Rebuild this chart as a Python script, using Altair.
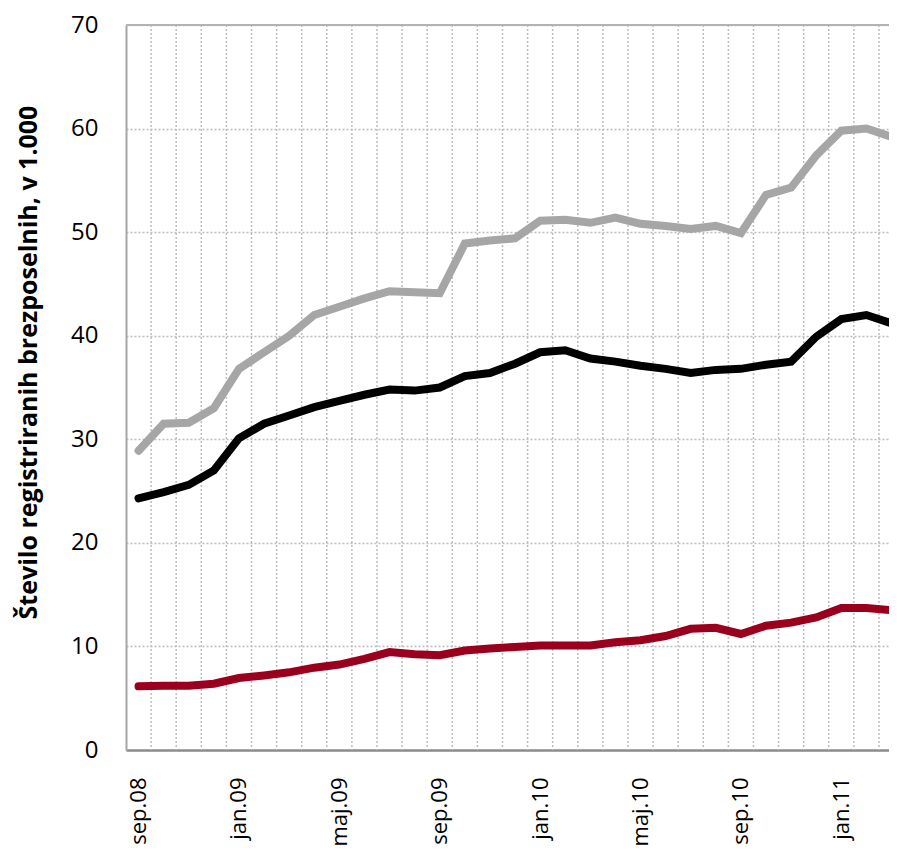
import altair as alt
import pandas as pd

months = ["sep.08","okt.08","nov.08","dec.08","jan.09","feb.09","mar.09","apr.09","maj.09","jun.09",
          "jul.09","avg.09","sep.09","okt.09","nov.09","dec.09","jan.10","feb.10","mar.10","apr.10",
          "maj.10","jun.10","jul.10","avg.10","sep.10","okt.10","nov.10","dec.10","jan.11","feb.11","mar.11"]

serija_siva = [28.9, 31.5, 31.6, 33.0, 36.8, 38.4, 40.0, 42.0, 42.8, 43.6,
               44.3, 44.2, 44.1, 48.9, 49.2, 49.4, 51.1, 51.2, 50.9, 51.4,
               50.8, 50.6, 50.3, 50.6, 49.9, 53.6, 54.3, 57.4, 59.8, 60.0, 59.2]
serija_crna = [24.3, 24.9, 25.6, 27.0, 30.1, 31.5, 32.3, 33.1, 33.7, 34.3,
               34.8, 34.7, 35.0, 36.1, 36.4, 37.3, 38.4, 38.6, 37.8, 37.5,
               37.1, 36.8, 36.4, 36.7, 36.8, 37.2, 37.5, 39.9, 41.6, 42.0, 41.2]
serija_rdeca = [6.15, 6.2, 6.2, 6.4, 6.95, 7.2, 7.5, 7.95, 8.25, 8.8,
                9.45, 9.25, 9.15, 9.6, 9.8, 9.95, 10.1, 10.1, 10.1, 10.4,
                10.6, 11.0, 11.7, 11.8, 11.2, 12.0, 12.3, 12.8, 13.7, 13.7, 13.5]

series_names = ["A", "B", "C"]
series_colors = ["#a6a6a6", "#000000", "#9a001e"]

rows = []
for name, vals in zip(series_names, [serija_siva, serija_crna, serija_rdeca]):
    for i, v in enumerate(vals):
        rows.append({"idx": i, "mesec": months[i], "vrednost": v, "serija": name})
df = pd.DataFrame(rows)

n = len(months)
label_idx = list(range(0, n, 4))
grid_df = pd.DataFrame({"idx": [i + 0.5 for i in range(n - 1)]})
top_df = pd.DataFrame({"vrednost": [70]})

label_js = "[" + ",".join("'%s'" % m for m in months) + "]"

FONT = "Open Sans"

xscale = alt.Scale(domain=[-0.5, 29.9], zero=False, nice=False)
yscale = alt.Scale(domain=[0, 70], zero=True, nice=False)

x_axis = alt.Axis(values=label_idx, labelExpr=label_js + "[datum.value]",
                  labelAngle=270, labelAlign="right", labelBaseline="middle",
                  labelPadding=27, ticks=False, grid=False, labelFlush=False,
                  labelOverlap=False, title=None, labelFont=FONT, labelFontSize=22,
                  labelColor="#000000", domainColor="#8c8c8c", domainWidth=2.5)
y_axis = alt.Axis(values=[0, 10, 20, 30, 40, 50, 60, 70], ticks=False, labelPadding=28,
                  labelFlush=False, labelFont=FONT, labelFontSize=24, labelColor="#000000",
                  grid=True, gridDash=[2, 2], gridColor="#bdbdbd", gridWidth=1.5,
                  domainColor="#a6a6a6", domainWidth=2,
                  title="Število registriranih brezposelnih, v 1.000",
                  titleFont=FONT, titleFontSize=25, titleFontWeight="bold",
                  titleColor="#000000", titleX=-98, titleY=337,
                  titleBaseline="middle", titleAngle=270)

vgrid = alt.Chart(grid_df).mark_rule(color="#bdbdbd", strokeWidth=1.5, strokeDash=[2, 2]).encode(
    x=alt.X("idx:Q", scale=xscale, axis=x_axis)
)

top_line = alt.Chart(top_df).mark_rule(color="#b3b3b3", strokeWidth=2).encode(
    y=alt.Y("vrednost:Q", scale=yscale, axis=y_axis)
)

lines = alt.Chart(df).mark_line(strokeWidth=8, strokeJoin="miter", strokeCap="round").encode(
    x=alt.X("idx:Q", scale=xscale, axis=x_axis),
    y=alt.Y("vrednost:Q", scale=yscale, axis=y_axis),
    color=alt.Color("serija:N", scale=alt.Scale(domain=series_names, range=series_colors), legend=None),
    detail="serija:N",
)

chart = alt.layer(vgrid, top_line, lines).properties(
    width=763, height=725,
    autosize=alt.AutoSizeParams(type="none"),
    padding={"left": 118, "top": 17, "right": 0, "bottom": 96},
).configure_view(stroke=None)

chart.save("out.html", embed_options={"renderer": "svg", "actions": False})
